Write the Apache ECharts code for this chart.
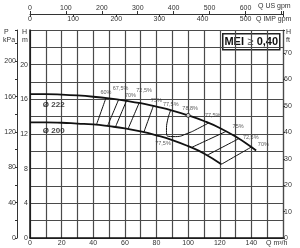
<!DOCTYPE html>
<html><head><meta charset="utf-8">
<script src="https://cdn.jsdelivr.net/npm/echarts@6/dist/echarts.min.js"></script>
<style>html,body{margin:0;padding:0;background:#fff}#c{width:300px;height:248px}</style>
</head><body><div id="c"></div>
<script>
// Q (m3/h) vs H (m)
const curve222 = [[0,16.6],[10,16.6],[20,16.55],[30,16.45],[40,16.3],[50,16.1],[60,15.85],[70,15.55],[80,15.15],[90,14.7],[100,14.15],[110,13.5],[120,12.7],[130,11.7],[140,10.5],[143,10.1]];
const curve200 = [[0,13.35],[10,13.35],[20,13.3],[30,13.2],[40,13.1],[50,12.9],[60,12.65],[70,12.3],[80,11.85],[90,11.3],[100,10.6],[110,9.75],[121,8.5]];
const iso60 = [[48,16.14],[42,13.06]];
const iso675 = [[56,15.95],[49,12.92]];
const iso70a = [[61,15.82],[54,12.8]];
const iso725a = [[69,15.58],[62,12.58]];
const iso75a = [[78,15.23],[72,12.21]];
const iso775 = [[89,14.75],[87,13.6],[86.3,12.4],[87,11.75],[92,11.7],[100,12.1],[107,12.7],[113,13.28]];
const iso75b = [[124,12.3],[102,10.43]];
const iso725b = [[132,11.46],[112,9.55]];
const iso70b = [[140,10.5],[121,8.5]];
const effLabels = [
  {q:48,h:16.14,t:'60%'},{q:56,h:15.95,t:'67,5%'},{q:61,h:15.82,t:'70%'},{q:69,h:15.58,t:'72,5%'},
  {q:78,h:15.23,t:'75%'},{q:89,h:14.75,t:'77,5%'},{q:100,h:14.15,t:'78,8%'},{q:113,h:13.28,t:'77,5%'},
  {q:124,h:12.3,t:'75%'},{q:132,h:11.46,t:'72,5%'},{q:140,h:10.5,t:'70%'},{q:86,h:11.52,t:'77,5%'}
];
const effOffsets = [[0,-3],[2,-8],[4,-2],[5,-9],[3,-3],[0,-3],[2,-4],[4,-4],[12,-2],[12,2],[12,0],[-3,8]];
const diaLabels = [{q:15,h:15.4,t:'Ø 222'},{q:15,h:12.4,t:'Ø 200'}];
const bep = [[100,14.15]];
const xMax = 160, hMax = 24;

const chart = echarts.init(document.getElementById('c'), null, {renderer:'canvas'});
const lab = {fontSize:7, color:'#333', fontFamily:'Liberation Sans, Arial, sans-serif'};
const gridLine = {show:true, lineStyle:{color:'#4a4a4a', width:1.2}};
function line(d, w){return {type:'line', data:d, symbol:'none', smooth:true, lineStyle:{color:'#111', width:w}, xAxisIndex:0, yAxisIndex:0, silent:true, z:5};}
const series = [
  line(curve222,1.8), line(curve200,1.8),
  line(iso60,1), line(iso675,1), line(iso70a,1), line(iso725a,1), line(iso75a,1),
  line(iso775,1), line(iso75b,1), line(iso725b,1), line(iso70b,1),
  {type:'scatter', data:effLabels.map((e,i)=>({value:[e.q,e.h], label:{offset:effOffsets[i]}, name:e.t})), symbolSize:0,
   label:{show:true, formatter:p=>p.name, fontSize:5.5, color:'#333', position:'top', distance:0}, z:6, silent:true},
  {type:'scatter', data:diaLabels.map(e=>({value:[e.q,e.h], name:e.t})), symbolSize:0,
   label:{show:true, formatter:p=>p.name, fontSize:8, fontWeight:'bold', color:'#111', position:'inside'}, z:6, silent:true},
  {type:'scatter', data:bep, symbol:'circle', symbolSize:4, itemStyle:{color:'#fff', borderColor:'#111', borderWidth:1}, z:7, silent:true}
];
chart.setOption({
  backgroundColor:'#fff',
  animation:false,
  grid:{left:30, right:17, top:30, bottom:10},
  xAxis:[
    {type:'value', min:0, max:xMax, interval:10, position:'bottom',
     axisLine:{show:true, onZero:false, lineStyle:{color:'#111', width:1.5}}, axisTick:{show:false},
     axisLabel:Object.assign({margin:2, formatter:v=>(v%20===0 && v<=140)?v:''}, lab), splitLine:gridLine},
    {type:'value', min:0, max:xMax*4.4029, interval:100, position:'top', offset:16,
     axisLine:{show:true, onZero:false, lineStyle:{color:'#333', width:1}}, axisTick:{show:true, length:3, lineStyle:{color:'#333'}},
     axisLabel:Object.assign({margin:2, formatter:v=>(v%100===0 && v<=600)?v:''}, lab), splitLine:{show:false}},
    {type:'value', min:0, max:xMax*3.6662, interval:100, position:'top', offset:16,
     axisLine:{show:false, onZero:false}, axisTick:{show:true, inside:true, length:3, lineStyle:{color:'#333'}},
     axisLabel:Object.assign({margin:2, inside:true, formatter:v=>(v%100===0 && v<=500)?v:''}, lab), splitLine:{show:false}}
  ],
  yAxis:[
    {type:'value', min:0, max:hMax, interval:2, position:'left',
     axisLine:{show:true, onZero:false, lineStyle:{color:'#111', width:1.5}}, axisTick:{show:false},
     axisLabel:Object.assign({margin:2, formatter:v=>(v%4===0 && v<=20)?v:''}, lab), splitLine:gridLine},
    {type:'value', min:0, max:hMax*9.80665, interval:20, position:'left', offset:13,
     axisLine:{show:true, onZero:false, lineStyle:{color:'#333', width:1}}, axisTick:{show:true, length:2, lineStyle:{color:'#333'}},
     axisLabel:Object.assign({margin:1, formatter:v=>(v%40===0 && v<=200)?v:''}, lab), splitLine:{show:false}},
    {type:'value', min:0, max:hMax*3.28084, interval:10, position:'right',
     axisLine:{show:true, onZero:false, lineStyle:{color:'#4a4a4a', width:1.2}}, axisTick:{show:true, length:2, lineStyle:{color:'#333'}},
     axisLabel:Object.assign({margin:1, formatter:v=>(v%10===0 && v<=70)?v:''}, lab), splitLine:{show:false}}
  ],
  series:series,
  graphic:[
    {type:'text', left:4, top:29, style:{text:'P', fontSize:7, fill:'#333'}},
    {type:'text', left:3, top:37, style:{text:'kPa', fontSize:7, fill:'#333'}},
    {type:'text', left:22, top:29, style:{text:'H', fontSize:7, fill:'#333'}},
    {type:'text', left:22, top:37, style:{text:'m', fontSize:7, fill:'#333'}},
    {type:'text', left:286, top:29, style:{text:'H', fontSize:7, fill:'#333'}},
    {type:'text', left:286, top:37, style:{text:'ft', fontSize:7, fill:'#333'}},
    {type:'text', left:258, top:3, style:{text:'Q US gpm', fontSize:7, fill:'#333'}},
    {type:'text', left:256, top:16, style:{text:'Q IMP gpm', fontSize:7, fill:'#333'}},
    {type:'text', left:266, top:240, style:{text:'Q m³/h', fontSize:7, fill:'#333'}},
    {type:'group', left:222, top:33, children:[
      {type:'rect', shape:{x:0,y:0,width:57,height:16}, style:{fill:'#fff', stroke:'#222', lineWidth:1.5}},
      {type:'text', x:28.5, y:8, style:{text:'{b|MEI} {n|≥} {b|0,40}', align:'center', verticalAlign:'middle',
        rich:{b:{fontSize:11, fontWeight:'bold', fill:'#111', fontFamily:'Liberation Sans, Arial'}, n:{fontSize:11, fill:'#444', fontFamily:'Liberation Sans, Arial'}}}}
    ], z:10}
  ]
});
</script></body></html>
